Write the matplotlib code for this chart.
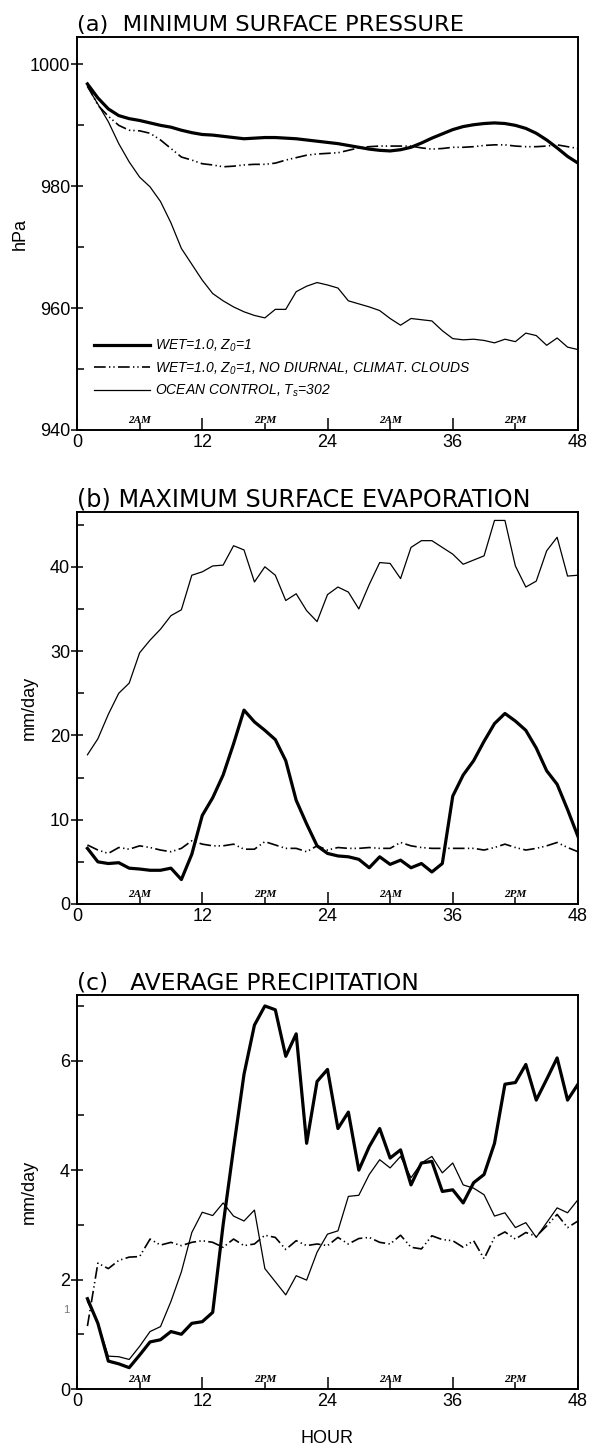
import numpy as np
import matplotlib
matplotlib.use("Agg")
import matplotlib.pyplot as plt
from matplotlib import transforms
from matplotlib.ticker import FixedLocator

plt.rcParams['font.family'] = ['Liberation Sans', 'DejaVu Sans']
plt.rcParams['mathtext.fontset'] = 'custom'
plt.rcParams['mathtext.rm'] = 'Liberation Sans:italic'
plt.rcParams['mathtext.it'] = 'Liberation Sans:italic'

# ---------------- data ----------------
hours = list(range(1, 49))

# (a) minimum surface pressure (hPa)
pres_wet = [996.8, 994.5, 992.7, 991.6, 991.1, 990.8, 990.4, 990.0, 989.7, 989.2,
            988.8, 988.5, 988.4, 988.2, 988.0, 987.8, 987.9, 988.0, 988.0, 987.9,
            987.8, 987.6, 987.4, 987.2, 987.0, 986.7, 986.4, 986.1, 985.9, 985.8,
            986.0, 986.4, 987.1, 987.9, 988.6, 989.3, 989.8, 990.1, 990.3, 990.4,
            990.3, 990.0, 989.5, 988.7, 987.6, 986.3, 984.9, 983.8]
pres_nodiurnal = [996.6, 993.3, 991.5, 990.0, 989.2, 989.1, 988.7, 987.6, 986.2, 984.8,
                  984.3, 983.7, 983.5, 983.2, 983.3, 983.5, 983.6, 983.6, 983.8, 984.3,
                  984.7, 985.1, 985.3, 985.4, 985.5, 985.9, 986.3, 986.5, 986.6, 986.6,
                  986.6, 986.6, 986.3, 986.1, 986.2, 986.4, 986.4, 986.5, 986.7, 986.8,
                  986.8, 986.6, 986.5, 986.5, 986.6, 986.8, 986.5, 986.2]
pres_ocean = [996.3, 993.5, 990.6, 987.0, 984.0, 981.5, 979.9, 977.5, 974.0, 969.8,
              967.2, 964.6, 962.4, 961.2, 960.2, 959.4, 958.8, 958.4, 959.8, 959.8,
              962.7, 963.6, 964.2, 963.8, 963.3, 961.2, 960.7, 960.2, 959.6, 958.3,
              957.2, 958.3, 958.1, 957.9, 956.3, 955.0, 954.8, 954.9, 954.7, 954.3,
              954.9, 954.5, 955.9, 955.5, 953.9, 955.1, 953.6, 953.2]

# (b) maximum surface evaporation (mm/day)
evap_wet = [6.6, 5.0, 4.8, 4.9, 4.25, 4.15, 4.0, 4.0, 4.25, 2.9,
            5.9, 10.5, 12.6, 15.3, 19.0, 23.0, 21.6, 20.6, 19.5, 17.0,
            12.3, 9.5, 6.9, 6.0, 5.7, 5.6, 5.3, 4.3, 5.6, 4.7,
            5.2, 4.3, 4.8, 3.8, 4.8, 12.8, 15.3, 17.0, 19.3, 21.4,
            22.6, 21.7, 20.6, 18.5, 15.8, 14.2, 11.2, 8.0]
evap_nodiurnal = [7.0, 6.4, 6.0, 6.7, 6.5, 6.9, 6.7, 6.4, 6.2, 6.6,
                  7.5, 7.1, 6.9, 6.9, 7.1, 6.5, 6.5, 7.4, 7.0, 6.6,
                  6.6, 6.2, 6.9, 6.4, 6.7, 6.6, 6.6, 6.7, 6.6, 6.6,
                  7.3, 6.9, 6.7, 6.6, 6.6, 6.6, 6.6, 6.6, 6.4, 6.7,
                  7.1, 6.7, 6.4, 6.6, 6.9, 7.3, 6.7, 6.2]
evap_ocean = [17.7, 19.6, 22.5, 25.0, 26.2, 29.8, 31.3, 32.6, 34.2, 34.9,
              39.0, 39.4, 40.1, 40.2, 42.5, 42.0, 38.2, 40.0, 39.0, 36.0,
              36.8, 34.8, 33.5, 36.7, 37.6, 37.0, 35.0, 37.9, 40.5, 40.4,
              38.6, 42.3, 43.1, 43.1, 42.3, 41.5, 40.3, 40.8, 41.3, 45.5,
              45.5, 40.1, 37.6, 38.3, 41.9, 43.5, 38.9, 39.0]

# (c) average precipitation (mm/day)
prec_wet = [1.65, 1.2, 0.51, 0.46, 0.39, 0.62, 0.86, 0.9, 1.05, 1.0,
            1.2, 1.23, 1.4, 3.0, 4.4, 5.75, 6.65, 7.0, 6.93, 6.08,
            6.49, 4.49, 5.62, 5.84, 4.76, 5.06, 4.0, 4.43, 4.76, 4.22,
            4.37, 3.73, 4.13, 4.16, 3.61, 3.64, 3.40, 3.77, 3.92, 4.49,
            5.57, 5.6, 5.93, 5.28, 5.66, 6.05, 5.28, 5.57]
prec_nodiurnal = [1.15, 2.3, 2.2, 2.35, 2.41, 2.42, 2.74, 2.63, 2.68, 2.62,
                  2.68, 2.71, 2.68, 2.59, 2.74, 2.62, 2.65, 2.81, 2.77, 2.55,
                  2.71, 2.62, 2.65, 2.62, 2.77, 2.65, 2.75, 2.77, 2.68, 2.65,
                  2.81, 2.59, 2.56, 2.8, 2.73, 2.71, 2.59, 2.71, 2.38, 2.77,
                  2.87, 2.74, 2.86, 2.79, 2.98, 3.19, 2.95, 3.07]
prec_ocean = [1.6, 1.2, 0.6, 0.59, 0.54, 0.78, 1.05, 1.14, 1.6, 2.14,
              2.86, 3.23, 3.17, 3.4, 3.16, 3.07, 3.27, 2.2, 1.96, 1.72,
              2.07, 1.99, 2.5, 2.83, 2.89, 3.52, 3.54, 3.92, 4.19, 4.04,
              4.25, 3.86, 4.13, 4.25, 3.95, 4.13, 3.73, 3.67, 3.55, 3.16,
              3.22, 2.95, 3.04, 2.77, 3.04, 3.31, 3.22, 3.46]

legend_labels = ["WET=1.0, Z$_0$=1",
                 "WET=1.0, Z$_0$=1, NO DIURNAL, CLIMAT. CLOUDS",
                 "OCEAN CONTROL, T$_s$=302"]
titles = ["(a)  MINIMUM SURFACE PRESSURE",
          "(b) MAXIMUM SURFACE EVAPORATION",
          "(c)   AVERAGE PRECIPITATION"]
ylabels = ["hPa", "mm/day", "mm/day"]
time_marks = [6, 18, 30, 42]
time_labels = ["2AM", "2PM", "2AM", "2PM"]
xticks = [0, 12, 24, 36, 48]

# ---------------- figure ----------------
W, H = 597, 1448
fig = plt.figure(figsize=(W / 100, H / 100), dpi=100)
fig.patch.set_facecolor('white')

left_px, right_px = 77, 578
panels_px = [(37, 430), (512, 904), (995, 1389)]
title_sizes = [16.2, 17.2, 16.8]
ylabel_x_px = [29, 38, 38]

thick = dict(color='black', lw=2.3, solid_joinstyle='round')
dashdot = dict(color='black', lw=1.2, linestyle=(0, (7, 2, 0.8, 1.8, 0.8, 2)))
thin = dict(color='black', lw=0.9)

series = [
    (pres_wet, pres_nodiurnal, pres_ocean),
    (evap_wet, evap_nodiurnal, evap_ocean),
    (prec_wet, prec_nodiurnal, prec_ocean),
]
ylims = [(940, 1004.5), (0, 46.5), (0, 7.2)]
ymajor = [[940, 960, 980, 1000], [0, 10, 20, 30, 40], [0, 2, 4, 6]]
yminor = [[950, 970, 990], [5, 15, 25, 35, 45], [1, 3, 5, 7]]

axes = []
for i, (top, bot) in enumerate(panels_px):
    ax = fig.add_axes([left_px / W, 1 - bot / H, (right_px - left_px) / W, (bot - top) / H])
    axes.append(ax)
    wet, nod, oce = series[i]
    l1, = ax.plot(hours, wet, label=legend_labels[0], **thick)
    l2, = ax.plot(hours, nod, label=legend_labels[1], **dashdot)
    l3, = ax.plot(hours, oce, label=legend_labels[2], **thin)
    ax.set_xlim(0, 48)
    ax.set_ylim(*ylims[i])
    ax.set_xticks(xticks)
    ax.xaxis.set_minor_locator(FixedLocator(time_marks))
    ax.set_yticks(ymajor[i])
    ax.yaxis.set_minor_locator(FixedLocator(yminor[i]))
    ax.tick_params(axis='x', which='major', direction='in', length=9, width=1.1,
                   labelsize=13, pad=3)
    ax.tick_params(axis='x', which='minor', direction='in', length=5, width=1.1)
    ax.tick_params(axis='y', which='major', direction='inout', length=8, width=1.1,
                   labelsize=13, pad=1)
    ax.tick_params(axis='y', which='minor', direction='in', length=5, width=1.1)
    for s in ax.spines.values():
        s.set_linewidth(1.4)
    ax.set_ylabel(ylabels[i], fontsize=13)
    ax.yaxis.set_label_coords((ylabel_x_px[i] - left_px) / (right_px - left_px), 0.5)
    ax.text(0.0, 1 + 6 / (bot - top), titles[i], transform=ax.transAxes,
            ha='left', va='baseline', fontsize=title_sizes[i], family=['DejaVu Sans'])
    trans = transforms.blended_transform_factory(ax.transData, ax.transAxes)
    for h, lab in zip(time_marks, time_labels):
        ax.text(h, 5 / (bot - top), lab, transform=trans, ha='center', va='bottom',
                fontsize=8, family=['Liberation Serif'], style='italic', weight='bold')
    if i == 0:
        ax.legend(handles=[l1, l2, l3], loc='upper left',
                  bbox_to_anchor=(0.034, 0.235), frameon=False,
                  prop={'style': 'italic', 'size': 10},
                  handlelength=4.0, handletextpad=0.4, labelspacing=0.45,
                  borderpad=0, borderaxespad=0)

axes[2].set_xlabel("HOUR", fontsize=13, labelpad=14)
axes[2].text(-0.015, 1.45, "1",
             transform=transforms.blended_transform_factory(axes[2].transAxes, axes[2].transData),
             ha='right', va='center', fontsize=8, color='#777777')

fig.savefig("out.png", dpi=100, facecolor='white')
